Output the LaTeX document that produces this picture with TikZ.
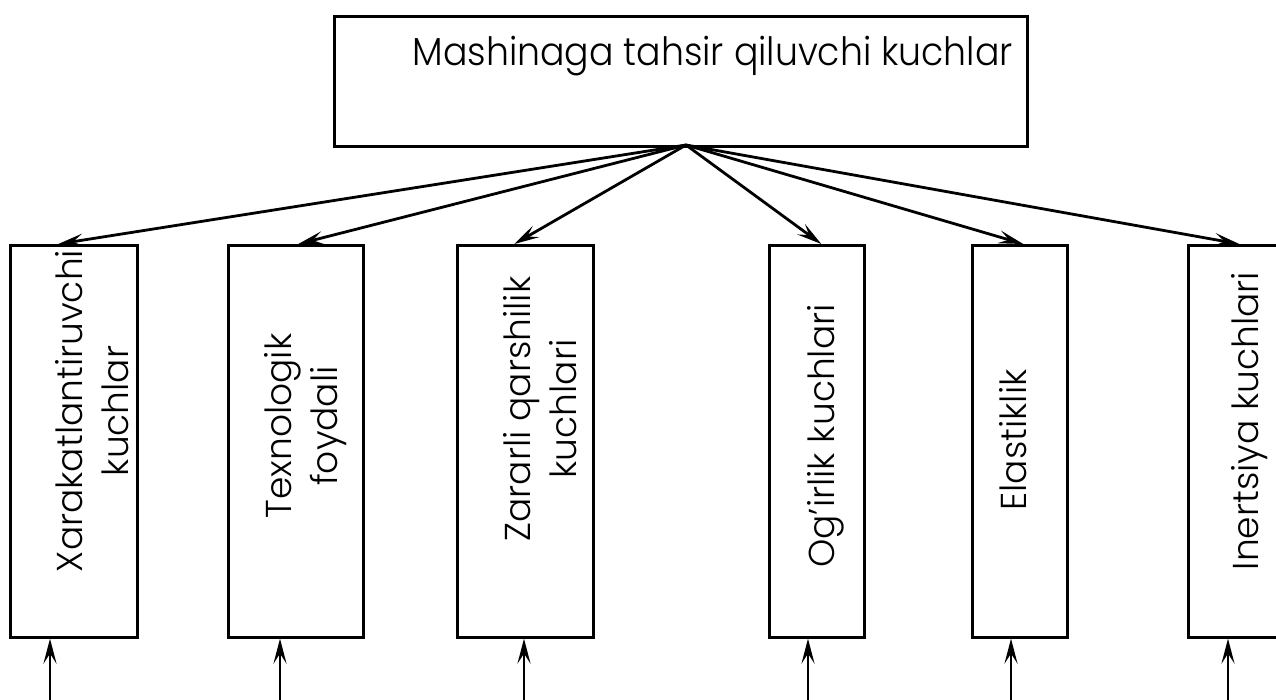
\documentclass[tikz,border=0pt]{standalone}
\usepackage{fontspec}
\setmainfont{Poppins}[UprightFont=* Light]
\usetikzlibrary{arrows.meta}
\begin{document}
\begin{tikzpicture}[x=1pt,y=-1pt,
  box/.style={draw, line width=2.6pt, inner sep=0pt, anchor=north west},
  arr/.style={-{Stealth[length=25pt,width=13pt,inset=10pt]}, line width=2.8pt},
  vlabel/.style={rotate=90, align=center, font=\fontsize{36}{46}\selectfont, inner sep=0pt},
  tlabel/.style={font=\fontsize{39}{46}\selectfont, inner sep=0pt, xscale=0.93}]
\useasboundingbox (0,0) rectangle (1276,700);
\clip (0,0) rectangle (1276,700);
\fill[white] (0,0) rectangle (1276,700);

% top box
\node[box, minimum width=693pt, minimum height=130pt] (top) at (333,15) {};
\node[tlabel, anchor=base east] (toptext) at (1013,66) {Mashinaga tahsir qiluvchi kuchlar};
\coordinate (src) at (686,145);

% lower boxes
\node[box, minimum width=127pt, minimum height=392pt] (b1) at (9,244) {};
\node[box, minimum width=135pt, minimum height=392pt] (b2) at (227,244) {};
\node[box, minimum width=136pt, minimum height=392pt] (b3) at (456,244) {};
\node[box, minimum width=95pt, minimum height=392pt] (b4) at (768,244) {};
\node[box, minimum width=95pt, minimum height=392pt] (b5) at (971,244) {};
\node[box, minimum width=110pt, minimum height=392pt] (b6) at (1187,244) {};

% labels
\node[vlabel] (l1) at (92,411) {Xarakatlantiruvchi\\kuchlar};
\node[vlabel] (l2) at (306,426) {Texnologik\\foydali};
\node[vlabel] (l3) at (540,409) {Zararli qarshilik\\kuchlari};
\node[vlabel] (l4) at (826,436) {Og’irlik kuchlari};
\node[vlabel] (l5) at (1013,440) {Elastiklik};
\node[vlabel] (l6) at (1250,421) {Inertsiya kuchlari};

% arrows from top box
\draw[arr] (src) -- ([xshift=-15.5pt]b1.north);
\draw[arr] (src) -- ([xshift=2.5pt]b2.north);
\draw[arr] (src) -- ([xshift=-11pt]b3.north);
\draw[arr] (src) -- ([xshift=4.5pt]b4.north);
\draw[arr] (src) -- ([xshift=3.5pt]b5.north);
\draw[arr] (src) -- ([xshift=-4pt]b6.north);

% arrows from below
\coordinate (s1) at (50,700);
\coordinate (s2) at (280,700);
\coordinate (s3) at (524,700);
\coordinate (s4) at (808,700);
\coordinate (s5) at (1011,700);
\coordinate (s6) at (1228,700);
\draw[arr] (s1) -- (s1 |- b1.south);
\draw[arr] (s2) -- (s2 |- b2.south);
\draw[arr] (s3) -- (s3 |- b3.south);
\draw[arr] (s4) -- (s4 |- b4.south);
\draw[arr] (s5) -- (s5 |- b5.south);
\draw[arr] (s6) -- (s6 |- b6.south);
\end{tikzpicture}
\end{document}
